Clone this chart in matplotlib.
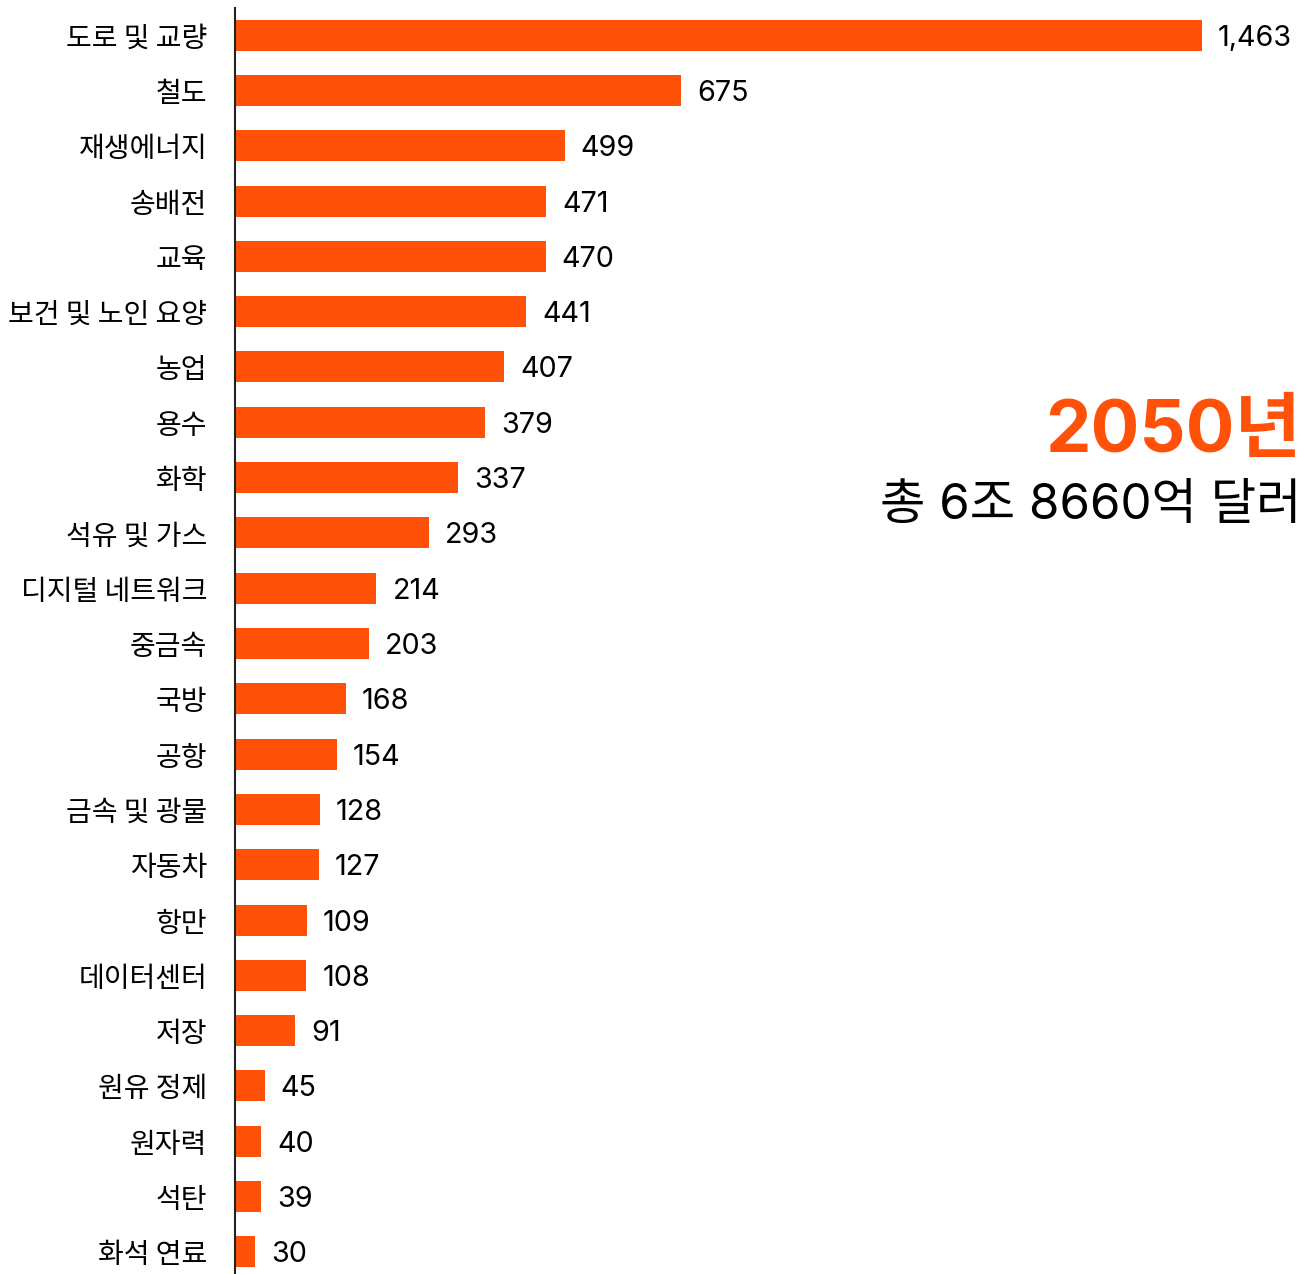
import matplotlib
matplotlib.use("Agg")
import matplotlib.pyplot as plt

plt.rcParams['font.family'] = ['Noto Sans CJK KR', 'DejaVu Sans']

# 2050년 부문별 인프라 투자 (단위: 10억 달러)
sectors = ['도로 및 교량', '철도', '재생에너지', '송배전', '교육', '보건 및 노인 요양',
           '농업', '용수', '화학', '석유 및 가스', '디지털 네트워크', '중금속', '국방',
           '공항', '금속 및 광물', '자동차', '항만', '데이터센터', '저장', '원유 정제',
           '원자력', '석탄', '화석 연료']
values = [1463, 675, 499, 471, 470, 441, 407, 379, 337, 293, 214, 203, 168,
          154, 128, 127, 109, 108, 91, 45, 40, 39, 30]

title = '2050년'
subtitle = '총 6조 8660억 달러'
bar_color = '#FF5208'
num_font = ['Inter', 'Noto Sans CJK KR']

fig = plt.figure(figsize=(13.05, 12.74), dpi=100)
ax = fig.add_axes([235 / 1305, 0, 1 - 235 / 1305, 1 - 8 / 1274])

pos = list(range(len(sectors)))
ax.barh(pos, values, height=0.56, color=bar_color)

for y, v in zip(pos, values):
    ax.annotate(f'{v:,}', xy=(v, y), xytext=(11.5, 0), textcoords='offset points',
                ha='left', va='center_baseline', fontsize=20.7, color='black',
                family=num_font)

ax.set_xlim(0, 1619)
ax.set_ylim(len(sectors) - 1 + 0.4, -0.49)
ax.set_yticks(pos)
ax.set_yticklabels(sectors, fontsize=20.2)
ax.tick_params(axis='y', length=0, pad=20)
ax.set_xticks([])

for side in ['top', 'right', 'bottom']:
    ax.spines[side].set_visible(False)
ax.spines['left'].set_linewidth(1.5)
ax.spines['left'].set_color('#222222')

fig.text(1301 / 1305, 1 - 452 / 1274, title, ha='right', va='baseline',
         fontsize=52, fontweight='bold', color=bar_color, family=num_font)
fig.text(1301 / 1305, 1 - 519 / 1274, subtitle, ha='right', va='baseline',
         fontsize=35.5, color='black', family=num_font)

fig.savefig('out.png', dpi=100)
